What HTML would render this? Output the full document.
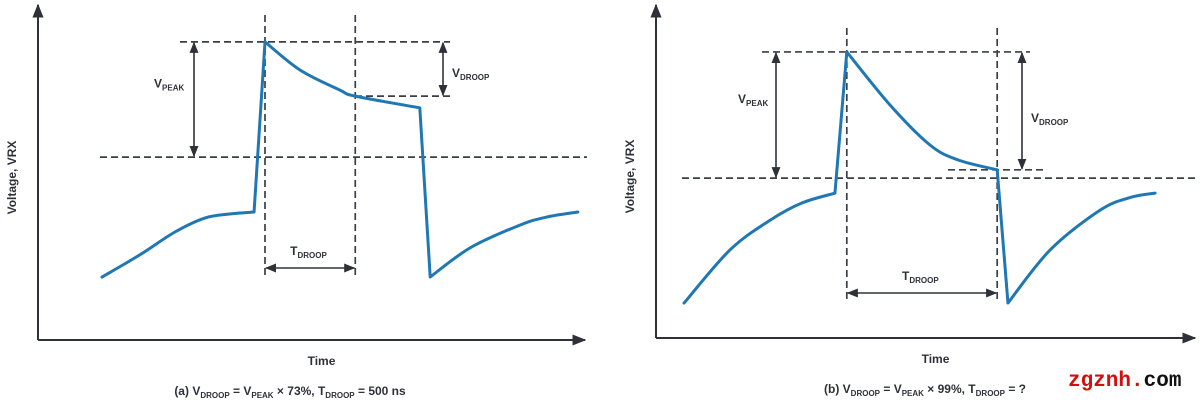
<!DOCTYPE html>
<html><head><meta charset="utf-8"><style>
body{margin:0;background:#fff;width:1200px;height:403px;overflow:hidden}
svg{display:block;font-family:"Liberation Sans",sans-serif}
.lbl{font-size:12px;fill:#2e3238;font-weight:bold}
.sub{font-size:8px}
</style></head><body>
<svg id="c" width="1200" height="403">
<defs>
<marker id="ah" viewBox="0 0 10 10" refX="9" refY="5" markerWidth="7" markerHeight="7" orient="auto-start-reverse"><path d="M0,1 L10,5 L0,9 z" fill="#2e3238"/></marker>
</defs>
</svg>
<script>
// Panel a data (t: time units 0..100, v: voltage units 0..100)
const tA=[11.7,18.6,25,30.5,35,39.5,41.5,47.9,55.2,58,69.8,71.7,79,88.1,93,98.7];
const vA=[18.8,25.4,32.2,36.4,37.6,38.2,89,80.6,74.6,72.8,69.3,18.8,27.5,34.3,36.7,38.2];
const markA={peak:89,base:54.6,droop:72.8,t0:41.5,t1:58};
// Panel b data
const tB=[5.2,13.7,21.2,27,33.2,35.4,43.4,50.8,56,63.3,65.3,73.1,82.4,88,92.6];
const vB=[10.5,26.4,35.4,40.5,43.5,85.9,70,58,53.5,50.5,10.5,26.4,38.4,42.2,43.5];
const markB={peak:85.9,base:48,droop:50.5,t0:35.4,t1:63.3};

const svg=document.getElementById('c');
const NS='http://www.w3.org/2000/svg';
function mk(tag,attrs){const e=document.createElementNS(NS,tag);for(const k in attrs)e.setAttribute(k,attrs[k]);svg.appendChild(e);return e;}
function smooth(P){
  const steep=i=>i<0||i>=P.length-1||Math.abs(P[i+1][0]-P[i][0])<15;
  let d=`M${P[0][0]},${P[0][1]}`;
  for(let i=0;i<P.length-1;i++){
    const a=P[i],b=P[i+1];
    if(steep(i)){d+=` L${b[0]},${b[1]}`;continue;}
    const pa=steep(i-1)?a:P[i-1], nb=steep(i+1)?b:P[i+2];
    const c1=[a[0]+(b[0]-pa[0])/6,a[1]+(b[1]-pa[1])/6];
    const c2=[b[0]-(nb[0]-a[0])/6,b[1]-(nb[1]-a[1])/6];
    d+=` C${c1[0]},${c1[1]} ${c2[0]},${c2[1]} ${b[0]},${b[1]}`;
  }
  return d;}
function panel(p,ts,vs,m){
  const X=t=>p.x0+t*(p.x1-p.x0)/100, Y=v=>p.y0-v*(p.y0-p.y1)/100;
  const dash={stroke:'#3a3f46','stroke-width':1.7,'stroke-dasharray':'7,4',fill:'none'};
  let e;
  e=mk('line',{x1:p.x0,y1:p.y0,x2:p.x0,y2:p.y1,stroke:'#2e3238','stroke-width':2,'marker-end':'url(#ah)'});
  
  e=mk('line',{x1:p.x0,y1:p.y0,x2:p.x1,y2:p.y0,stroke:'#2e3238','stroke-width':2,'marker-end':'url(#ah)'});
  
  e=mk('line',Object.assign({x1:p.peakX0,y1:Y(m.peak),x2:p.peakX1,y2:Y(m.peak)},dash));
  
  e=mk('line',Object.assign({x1:p.baseX0,y1:Y(m.base),x2:p.x1+2,y2:Y(m.base)},dash));
  
  e=mk('line',Object.assign({x1:p.droopX0,y1:Y(m.droop),x2:p.droopX1,y2:Y(m.droop)},dash));
  
  [m.t0,m.t1].forEach((t,i)=>{e=mk('line',Object.assign({x1:X(t),y1:p.vTop,x2:X(t),y2:p.vBot},dash));
    });
  const arr={stroke:'#2e3238','stroke-width':1.6,'marker-start':'url(#ah)','marker-end':'url(#ah)'};
  e=mk('line',Object.assign({x1:p.vpx,y1:Y(m.peak)+1,x2:p.vpx,y2:Y(m.base)-1},arr));
  
  e=mk('line',Object.assign({x1:p.vdx,y1:Y(m.peak)+1,x2:p.vdx,y2:Y(m.droop)-1},arr));
  
  e=mk('line',Object.assign({x1:X(m.t0)+1,y1:p.ty,x2:X(m.t1)-1,y2:p.ty},arr));
  
  const pts=ts.map((t,i)=>[X(t),Y(vs[i])]);
  e=mk('path',{d:smooth(pts),stroke:'#1f77b4',fill:'none','stroke-width':3,'stroke-linejoin':'round','stroke-linecap':'round'});
  
  function lab(x,y,main,sub,name){const t=mk('text',{x:x,y:y,class:'lbl','font-weight':'normal','font-size':13});
    t.innerHTML=`${main}<tspan class="sub" dy="3">${sub}</tspan>`;
    }
  lab(p.vpLx,Y((m.peak+m.base)/2)-12,'V','PEAK','vpeak-label');
  lab(p.vdLx,p.vdLy,'V','DROOP','vdroop-label');
  lab((X(m.t0)+X(m.t1))/2-20,p.ty-13,'T','DROOP','tdroop-label');
  e=mk('text',{x:(p.x0+p.x1)/2+10,y:p.y0+25,class:'lbl','text-anchor':'middle'});e.textContent='Time';
  
  e=mk('text',{x:0,y:0,class:'lbl','text-anchor':'middle',transform:`translate(${p.x0-22},${(p.y0+p.y1)/2+5}) rotate(-90)`});e.textContent='Voltage, VRX';
  
  e=mk('text',{x:p.capX,y:p.capY,class:'lbl','font-size':11,'text-anchor':'middle'});e.innerHTML=p.cap;
  
}
const s=t=>`<tspan class="sub" dy="3">${t}</tspan><tspan dy="-3">`;
panel({x0:38,x1:585,y0:340,y1:5,peakX0:180,peakX1:450,baseX0:100,droopX0:355,droopX1:450,vTop:15,vBot:277,vpx:194,vdx:443,ty:268,vpLx:154,vdLx:452,vdLy:77,capX:290,capY:395,
  cap:`(a) V${s('DROOP')} = V${s('PEAK')} × 73%, T${s('DROOP')} = 500 ns</tspan></tspan></tspan>`},tA,vA,markA);
panel({x0:656,x1:1195,y0:338,y1:5,peakX0:762,peakX1:1030,baseX0:682,droopX0:948,droopX1:1043,vTop:28,vBot:303,vpx:776,vdx:1022,ty:293,vpLx:738,vdLx:1031,vdLy:122,capX:925,capY:393,
  cap:`(b) V${s('DROOP')} = V${s('PEAK')} × 99%, T${s('DROOP')} = ?</tspan></tspan></tspan>`},tB,vB,markB);
const w=mk('text',{x:1068,y:386,'font-size':21,'font-weight':'bold','font-family':'Liberation Mono, monospace'});
w.innerHTML='<tspan fill="#d01010">zgznh.</tspan><tspan fill="#111">com</tspan>';


</script>
</body></html>
